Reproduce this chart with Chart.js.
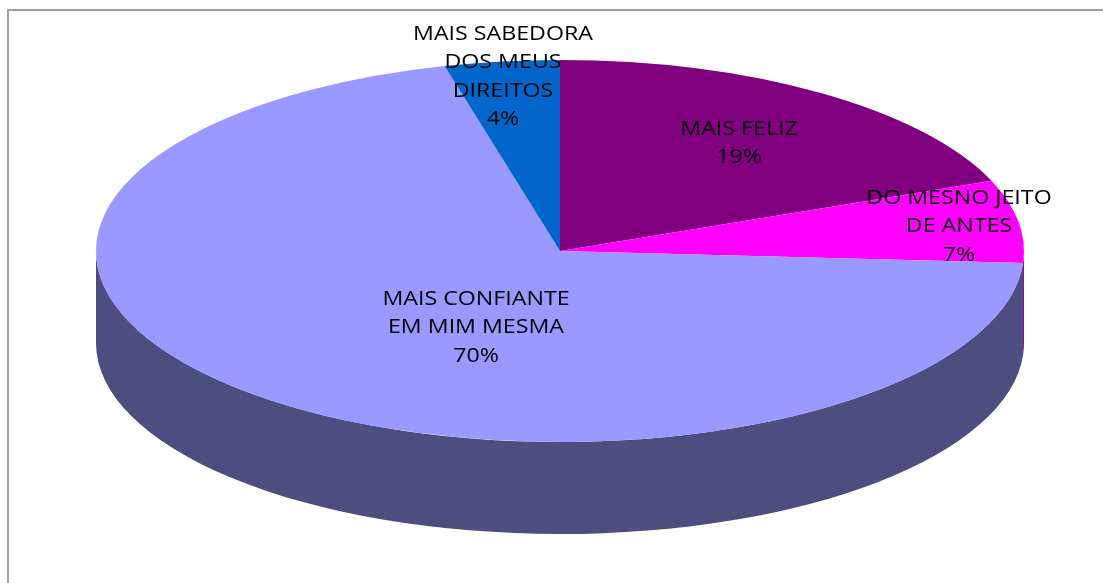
<!DOCTYPE html>
<html><head><meta charset="utf-8">
<style>
html,body{margin:0;padding:0;background:#fff;overflow:hidden}
#wrap{position:relative;width:1103px;height:583px;overflow:hidden}
#frame{position:absolute;left:7px;top:9px;right:-4px;bottom:0;border-left:2px solid #a0a0a0;border-top:2px solid #a0a0a0}
canvas{position:absolute;left:0;top:0}
</style>
<script src="https://cdn.jsdelivr.net/npm/chart.js@4"></script>
</head><body>
<div id="wrap"><div id="frame"></div><canvas id="c" width="1103" height="583"></canvas></div>
<script>
const categories = ['MAIS FELIZ', 'DO MESNO JEITO DE ANTES', 'MAIS CONFIANTE EM MIM MESMA', 'MAIS SABEDORA DOS MEUS DIREITOS'];
const values = [19, 7, 70, 4];
const labelLines = [['MAIS FELIZ'], ['DO MESNO JEITO', 'DE ANTES'], ['MAIS CONFIANTE', 'EM MIM MESMA'], ['MAIS SABEDORA', 'DOS MEUS', 'DIREITOS']];
const topColors = ['#800080', '#FF00FF', '#9999FF', '#0066CC'];
const wallColors = ['#400040', '#800080', '#4D4D7F', '#003366'];
const labelAnchors = [[739, 129], [959, 198], [476, 299], [503, 34]];

const SQUASH = 191 / 464, DEPTH = 92, LINE = 28.5, TEXT_STRETCH = 1.16;

const pie3d = {
  id: 'pie3d',
  beforeDatasetDraw(chart, args) {
    const ctx = chart.ctx;
    const arcs = args.meta.data;
    ctx.save();
    arcs.forEach((a, i) => {
      const s = Math.max(a.startAngle, 0), e = Math.min(a.endAngle, Math.PI);
      if (e <= s) return;
      const ry = a.outerRadius * SQUASH;
      ctx.beginPath();
      ctx.ellipse(a.x, a.y, a.outerRadius, ry, 0, s, e);
      ctx.ellipse(a.x, a.y + DEPTH, a.outerRadius, ry, 0, e, s, true);
      ctx.closePath();
      ctx.fillStyle = wallColors[i];
      ctx.fill();
    });
    ctx.restore();
    const a0 = arcs[0];
    ctx.save();
    ctx.translate(a0.x, a0.y);
    ctx.scale(1, SQUASH);
    ctx.translate(-a0.x, -a0.y);
  },
  afterDatasetDraw(chart) { chart.ctx.restore(); },
  afterDatasetsDraw(chart) {
    const ctx = chart.ctx;
    ctx.save();
    ctx.fillStyle = '#000';
    ctx.font = '20px "Open Sans"';
    ctx.textAlign = 'center';
    ctx.textBaseline = 'middle';
    labelLines.forEach((lines, i) => {
      const [x, y] = labelAnchors[i];
      [...lines, values[i] + '%'].forEach((t, k) => {
        ctx.save();
        ctx.translate(x, y + k * LINE);
        ctx.scale(TEXT_STRETCH, 1);
        ctx.fillText(t, 0, 0);
        ctx.restore();
      });
    });
    ctx.restore();
  }
};

new Chart(document.getElementById('c'), {
  type: 'pie',
  data: { labels: categories, datasets: [{ data: values, backgroundColor: topColors, borderWidth: 0, clip: false }] },
  options: {
    responsive: false,
    animation: false,
    radius: 464,
    layout: { padding: { left: 17, bottom: 81 } },
    plugins: { legend: { display: false }, tooltip: { enabled: false } }
  },
  plugins: [pie3d]
});
</script>
</body></html>
